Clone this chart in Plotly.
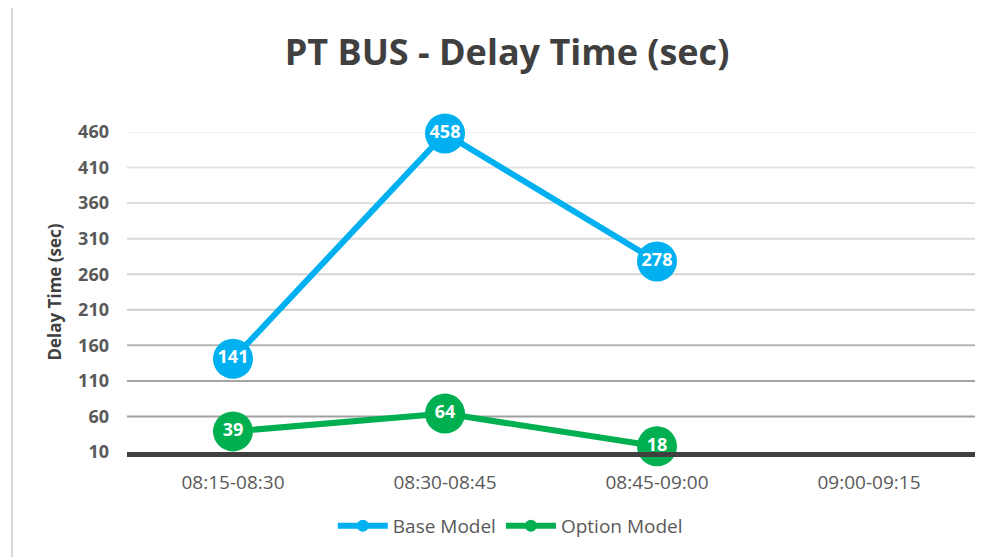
import plotly.graph_objects as go

categories = ["08:15-08:30", "08:30-08:45", "08:45-09:00", "09:00-09:15"]
base_model = [141, 458, 278, None]
option_model = [39, 64, 18, None]
y_ticks = [10, 60, 110, 160, 210, 260, 310, 360, 410, 460]

BLUE = "#00B0F0"
GREEN = "#00B050"
FONT = "Open Sans"

grid_colors = ["#a0a0a0", "#a4a4a4", "#b4b4b4", "#cdcdcd", "#d4d4d4",
               "#dadada", "#dedede", "#e4e4e4", "#f2f2f2"]

fig = go.Figure()

def labels(vals):
    return ["" if v is None else str(v) for v in vals]

for name, vals, color in [("Base Model", base_model, BLUE), ("Option Model", option_model, GREEN)]:
    fig.add_trace(go.Scatter(
        x=categories, y=vals, mode="lines+markers+text",
        line=dict(color=color, width=6),
        marker=dict(color=color, size=40),
        text=labels(vals), textposition="middle center",
        textfont=dict(family=FONT, size=18, color="white", weight="bold"),
        cliponaxis=False, showlegend=False, name=name,
    ))
    fig.add_trace(go.Scatter(
        x=[None], y=[None], mode="lines+markers", name=name,
        line=dict(color=color, width=6), marker=dict(color=color, size=12),
    ))

shapes = []
for v, c in zip(y_ticks[1:], grid_colors):
    shapes.append(dict(type="line", xref="paper", x0=0, x1=1, yref="y", y0=v, y1=v,
                       line=dict(color=c, width=2), layer="below"))
shapes.append(dict(type="rect", xref="paper", yref="paper", x0=-0.1356, x1=1.05,
                   y0=-0.45, y1=1.397, line=dict(color="#d9d9d9", width=2)))

fig.update_layout(
    width=975, height=549,
    margin=dict(l=119, r=8, t=124, b=105),
    paper_bgcolor="white", plot_bgcolor="white",
    font=dict(family=FONT, color="#595959"),
    title=dict(text="PT BUS - Delay Time (sec)", x=499 / 975, xanchor="center",
               y=1 - 44 / 549, yanchor="middle", yref="container",
               font=dict(family=FONT, size=36, color="#404040", weight="bold")),
    shapes=shapes,
    showlegend=True,
    legend=dict(orientation="h", x=0.452, xanchor="center", y=-0.231, yanchor="middle",
                font=dict(family=FONT, size=19, color="#595959"),
                itemwidth=50, tracegroupgap=0),
    xaxis=dict(type="category", categoryarray=categories, range=[-0.5, 3.5],
               showgrid=False, showline=True, linecolor="#404040", linewidth=5,
               ticks="", tickfont=dict(family=FONT, size=19, color="#595959"),
               ticklabelstandoff=9, zeroline=False),
    yaxis=dict(range=[10, 460], tickvals=y_ticks, showgrid=False, zeroline=False,
               showline=False, ticks="",
               tickfont=dict(family=FONT, size=18, color="#595959", weight="bold"),
               ticklabelstandoff=17,
               title=dict(text="Delay Time (sec)", standoff=12,
                          font=dict(family=FONT, size=17, color="#404040", weight="bold"))),
)

fig.write_html("out.html")
